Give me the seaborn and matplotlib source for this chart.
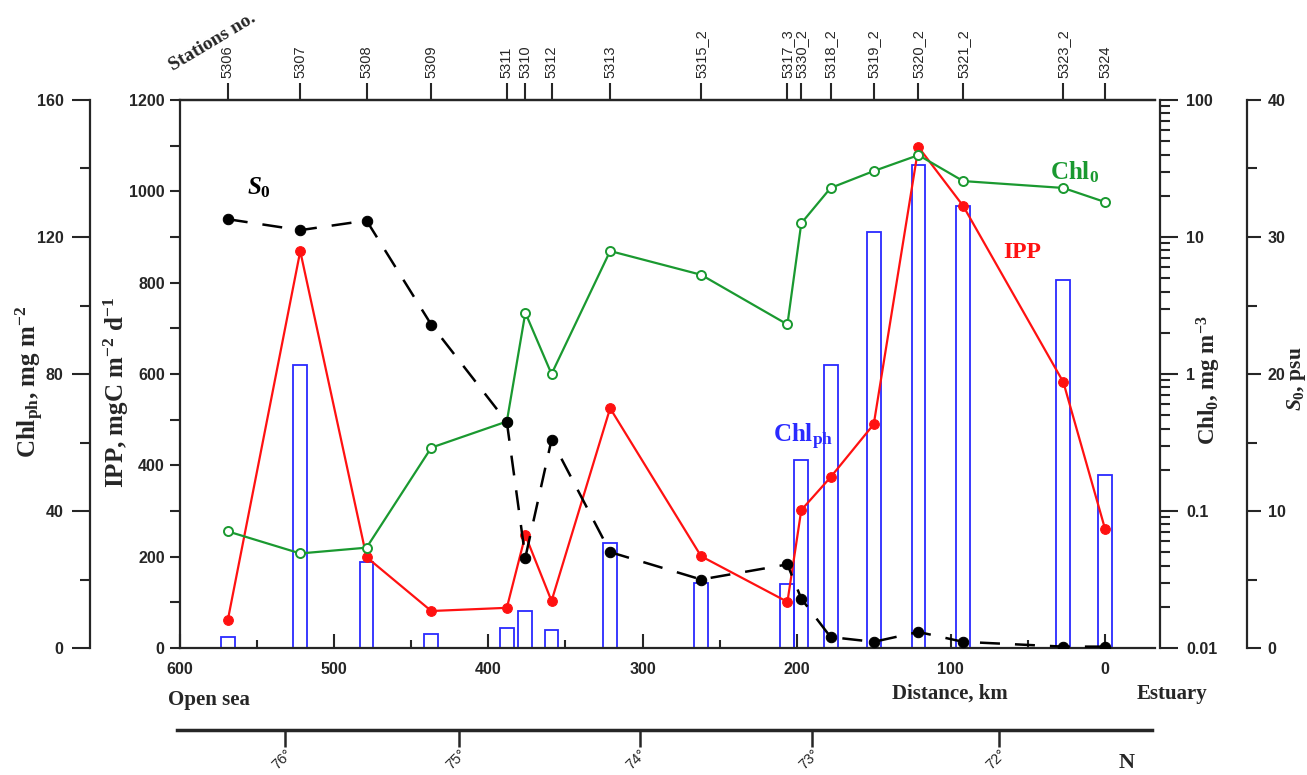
import matplotlib
matplotlib.use("Agg")
import matplotlib.pyplot as plt
import seaborn as sns
import pandas as pd
from matplotlib.ticker import MultipleLocator, FixedLocator, LogLocator, NullFormatter

# ---------------- data ----------------
stations = ["5306", "5307", "5308", "5309", "5311", "5310", "5312", "5313", "5315_2",
            "5317_3", "5330_2", "5318_2", "5319_2", "5320_2", "5321_2", "5323_2", "5324"]
distance_km = [569, 522, 479, 437, 388, 376, 359, 321, 262, 206, 197, 178, 150, 121, 92, 27, 0]
chl_ph = [3.2, 82.6, 25, 4, 5.8, 10.8, 5.3, 30.7, 19, 18.7, 55, 82.6, 121.5, 141, 129, 107.4, 50.5]
ipp = [61, 869, 199, 81, 88, 247, 103, 525, 201, 101, 302, 374, 490, 1097, 968, 582, 261]
chl0 = [0.071, 0.049, 0.054, 0.29, 0.45, 2.8, 1.0, 7.9, 5.3, 2.3, 12.6, 22.8, 30.3, 39.6, 25.6, 22.8, 18.0]
s0 = [31.3, 30.5, 31.2, 23.6, 16.5, 6.6, 15.2, 7.0, 5.0, 6.1, 3.6, 0.8, 0.45, 1.17, 0.45, 0.1, 0.1]
lat_ticks_km = [530, 417, 300, 188, 67]
lat_labels = ["76°", "75°", "74°", "73°", "72°"]
chl0_ticks = [0.01, 0.1, 1, 10, 100]
chl0_tick_labels = ["0.01", "0.1", "1", "10", "100"]

df = pd.DataFrame({"dist": distance_km, "chl_ph": chl_ph, "ipp": ipp, "chl0": chl0, "s0": s0})

# ---------------- style ----------------
sns.set_style("ticks")
plt.rcParams["font.family"] = ["Liberation Sans", "DejaVu Sans"]
plt.rcParams["mathtext.fontset"] = "custom"
plt.rcParams["mathtext.rm"] = "Liberation Serif:bold"
plt.rcParams["mathtext.bf"] = "Liberation Serif:bold"
plt.rcParams["mathtext.it"] = "Liberation Serif:italic:bold"

SERIF = ["Liberation Serif", "DejaVu Serif"]
RED = "#ff1111"
GREEN = "#1a9930"
BLUE = "#2a2aff"
LW_SP = 1.6
TICKFS = 11.5

W, H = 1307, 775
fig = plt.figure(figsize=(W / 100, H / 100), dpi=100)
fig.patch.set_facecolor("white")

L, R, T, B = 180, 1155, 100, 648
ax = fig.add_axes([L / W, 1 - B / H, (R - L) / W, (B - T) / H])
x_right = 600 - (R - L) / 925 * 600
ax.set_xlim(600, x_right)
ax.set_ylim(0, 1200)

ax_ph = ax.twinx()
ax_c0 = ax.twinx()
ax_s = ax.twinx()

for a, z in [(ax_ph, 1), (ax, 2), (ax_c0, 3), (ax_s, 4)]:
    a.set_zorder(z)
    a.patch.set_visible(False)
    for s in a.spines.values():
        s.set_linewidth(LW_SP)

# ---- Chl_ph bars (left outer axis) ----
ax_ph.bar(df["dist"], df["chl_ph"], width=9, facecolor="none", edgecolor=BLUE, linewidth=1.3)
ax_ph.set_ylim(0, 160)
ax_ph.set_xlim(600, x_right)
for s in ["right", "top", "bottom"]:
    ax_ph.spines[s].set_visible(False)
ax_ph.spines["left"].set_visible(True)
ax_ph.spines["left"].set_position(("axes", -(L - 90) / (R - L)))
ax_ph.yaxis.set_ticks_position("left")
ax_ph.yaxis.set_major_locator(MultipleLocator(40))
ax_ph.yaxis.set_minor_locator(MultipleLocator(20))
ax_ph.tick_params(axis="y", which="major", direction="out", length=13, width=1.5, labelsize=TICKFS, pad=6, left=True)
ax_ph.tick_params(axis="y", which="minor", direction="out", length=7, width=1.5, left=True)
ax_ph.set_ylabel("")

# ---- IPP (main axis) ----
sns.lineplot(data=df, x="dist", y="ipp", ax=ax, color=RED, linewidth=1.6, marker="o",
             markersize=7, markerfacecolor=RED, markeredgecolor=RED, sort=False, estimator=None)
ax.set_xlim(600, x_right)
ax.set_ylim(0, 1200)
ax.spines["right"].set_visible(False)
ax.yaxis.set_major_locator(MultipleLocator(200))
ax.yaxis.set_minor_locator(MultipleLocator(100))
ax.xaxis.set_major_locator(MultipleLocator(100))
ax.xaxis.set_minor_locator(MultipleLocator(50))
ax.tick_params(axis="y", which="both", direction="out", length=7, width=1.5, labelsize=TICKFS, pad=4,
               left=True, right=False)
ax.tick_params(axis="x", which="major", direction="in", length=10, width=1.5, labelsize=TICKFS, pad=10,
               bottom=True, top=False)
ax.tick_params(axis="x", which="minor", direction="in", length=6, width=1.5, bottom=True, top=False)
ax.set_ylabel("")
ax.set_xlabel("")
for lab in ax.get_xticklabels() + ax.get_yticklabels() + ax_ph.get_yticklabels():
    lab.set_fontweight("bold")

# top station axis
sec = ax.secondary_xaxis("top")
sec.set_xticks(distance_km, labels=stations)
sec.tick_params(axis="x", direction="out", length=12, width=1.5, labelsize=10.5, rotation=90, pad=4, top=True)
sec.spines["top"].set_linewidth(LW_SP)

# ---- Chl0 (log, right) ----
sns.lineplot(data=df, x="dist", y="chl0", ax=ax_c0, color=GREEN, linewidth=1.6, marker="o",
             markersize=6.5, markerfacecolor="white", markeredgecolor=GREEN, markeredgewidth=1.4,
             sort=False, estimator=None)
ax_c0.set_yscale("log")
ax_c0.set_ylim(0.01, 100)
ax_c0.set_xlim(600, x_right)
for s in ["left", "top", "bottom"]:
    ax_c0.spines[s].set_visible(False)
ax_c0.spines["right"].set_position(("axes", 1 + 5 / (R - L)))
ax_c0.yaxis.set_major_locator(FixedLocator(chl0_ticks))
ax_c0.set_yticklabels(chl0_tick_labels)
ax_c0.yaxis.set_minor_locator(LogLocator(base=10, subs=range(2, 10)))
ax_c0.yaxis.set_minor_formatter(NullFormatter())
ax_c0.tick_params(axis="y", which="major", direction="out", length=13, width=1.5, labelsize=TICKFS, pad=6,
                  right=True, left=False)
ax_c0.tick_params(axis="y", which="minor", direction="out", length=7, width=1.5, right=True, left=False)
for lab in ax_c0.get_yticklabels():
    lab.set_fontweight("bold")
ax_c0.set_ylabel("")

# ---- S0 (right outer) ----
sns.lineplot(data=df, x="dist", y="s0", ax=ax_s, color="black", linewidth=1.8, marker="o",
             markersize=7.5, markerfacecolor="black", markeredgecolor="black",
             linestyle=(0, (8, 6)), sort=False, estimator=None)
ax_s.set_ylim(0, 40)
ax_s.set_xlim(600, x_right)
for s in ["left", "top", "bottom"]:
    ax_s.spines[s].set_visible(False)
ax_s.spines["right"].set_position(("axes", (1247 - L) / (R - L)))
ax_s.yaxis.set_major_locator(MultipleLocator(10))
ax_s.yaxis.set_minor_locator(MultipleLocator(5))
ax_s.tick_params(axis="y", which="major", direction="out", length=10, width=1.5, labelsize=TICKFS, pad=5,
                 right=True, left=False)
ax_s.tick_params(axis="y", which="minor", direction="out", length=7, width=1.5, right=True, left=False)
for lab in ax_s.get_yticklabels():
    lab.set_fontweight("bold")
ax_s.set_ylabel("")

for a in (ax_c0, ax_s, ax_ph):
    a.set_xlabel("")
    a.tick_params(axis="x", which="both", bottom=False, top=False, labelbottom=False, labeltop=False)

# in-plot series labels (data coords of IPP axis)
ax.text(549, 1007, "$S_0$", fontsize=18, color="black", ha="center", va="center")
ax.text(20, 1042, "Chl$_0$", family=SERIF, fontweight="bold", fontsize=18, color=GREEN, ha="center", va="center")
ax.text(54, 865, "IPP", family=SERIF, fontweight="bold", fontsize=17, color=RED, ha="center", va="center")
ax.text(196, 462, "Chl$_{\\rm ph}$", family=SERIF, fontweight="bold", fontsize=18, color=BLUE, ha="center", va="center")

# ---- axis titles ----
fig.text(30 / W, 1 - 382 / H, "Chl$_{\\rm ph}$, mg m$^{-2}$", rotation=90, ha="center", va="center",
         family=SERIF, fontweight="bold", fontsize=18)
fig.text(116 / W, 1 - 393 / H, "IPP, mgC m$^{-2}$ d$^{-1}$", rotation=90, ha="center", va="center",
         family=SERIF, fontweight="bold", fontsize=18)
fig.text(1209 / W, 1 - 380 / H, "Chl$_0$, mg m$^{-3}$", rotation=90, ha="center", va="center",
         family=SERIF, fontweight="bold", fontsize=16.5)
fig.text(1296 / W, 1 - 379 / H, "$S_0$, psu", rotation=90, ha="center", va="center",
         family=SERIF, fontweight="bold", fontsize=15.5)

# ---- latitude axis ----
ax_lat = fig.add_axes([177 / W, 1 - 730 / H, (R - L) / W, 6 / H])
ax_lat.set_xlim(600, x_right)
ax_lat.patch.set_visible(False)
for s in ["left", "right", "top"]:
    ax_lat.spines[s].set_visible(False)
ax_lat.spines["bottom"].set_linewidth(2.5)
ax_lat.set_yticks([])
ax_lat.set_xticks(lat_ticks_km, labels=lat_labels)
ax_lat.tick_params(axis="x", direction="out", length=12, width=1.8, labelsize=10.5, pad=0,
                   bottom=True, top=False, labelbottom=True)
for lab in ax_lat.get_xticklabels():
    lab.set_rotation(45)
    lab.set_ha("right")
    lab.set_va("top")
    lab.set_rotation_mode("anchor")

# ---- figure texts ----
fig.text(213 / W, 1 - 42 / H, "Stations no.", rotation=31, ha="center", va="center",
         family=SERIF, fontweight="bold", fontsize=14)
fig.text(168 / W, 1 - 700 / H, "Open sea", ha="left", va="center", family=SERIF, fontweight="bold", fontsize=15)
fig.text(950 / W, 1 - 694 / H, "Distance, km", ha="center", va="center", family=SERIF, fontweight="bold", fontsize=15)
fig.text(1172 / W, 1 - 694 / H, "Estuary", ha="center", va="center", family=SERIF, fontweight="bold", fontsize=15)
fig.text(1127 / W, 1 - 763 / H, "N", ha="center", va="center", family=SERIF, fontweight="bold", fontsize=16)

fig.savefig("out.png", dpi=100, facecolor="white")
